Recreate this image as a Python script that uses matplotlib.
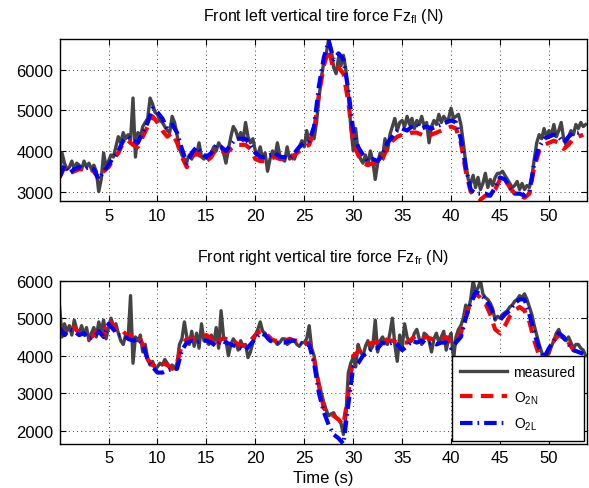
import numpy as np
import matplotlib
matplotlib.use('Agg')
import matplotlib.pyplot as plt

plt.rcParams['font.family'] = ['Liberation Sans', 'DejaVu Sans']
plt.rcParams['mathtext.fontset'] = 'custom'
plt.rcParams['mathtext.rm'] = 'Liberation Sans'

# measured signals sampled every 0.25 s, estimates every 0.5 s
t_meas = np.arange(0, 54, 0.25)
t_est = np.arange(0, 54, 0.5)

fl_measured = [
    3400, 3950, 3700, 3550, 3600, 3750, 3550, 3700, 3650, 3550, 3750, 3600,
    3700, 3550, 3650, 3500, 3000, 3300, 3950, 3600, 3750, 3900, 3850, 4100,
    4350, 4200, 4450, 4300, 4400, 4250, 5300, 3850, 4450, 4350, 4600, 4700,
    4800, 5300, 5150, 4950, 4900, 4750, 4700, 4600, 4500, 4450, 4850, 4700,
    4400, 4050, 3900, 3800, 3750, 3900, 3800, 4000, 3900, 4200, 3850, 3800,
    3900, 3800, 3950, 4100, 4000, 4200, 4100, 3950, 3700, 4050, 4350, 4600,
    4500, 4300, 4450, 4250, 4700, 4350, 4200, 4300, 4000, 3900, 4100, 3800,
    3950, 3500, 3800, 4000, 3850, 4200, 3900, 3800, 3750, 4100, 3800, 3900,
    3800, 4000, 4100, 4250, 4100, 4500, 4200, 4350, 4300, 4700, 5300, 5800,
    6200, 6400, 6750, 6500, 6050, 5900, 6300, 6100, 6350, 6000, 5400, 4600,
    4000, 4550, 3950, 3800, 3700, 3900, 3650, 4000, 3750, 3300, 3700, 3950,
    3850, 4300, 4000, 4400, 4600, 4800, 4500, 4700, 4750, 4600, 4850, 4650,
    4800, 4550, 4750, 4650, 4850, 4600, 4700, 4200, 4600, 4750, 4650, 4900,
    4700, 4850, 4750, 4800, 5050, 4800, 4850, 4900, 4650, 4200, 3700, 3300,
    3200, 3400, 3100, 3350, 3050, 3200, 3450, 3100, 3300, 3150, 3350, 3450,
    3450, 3500, 3400, 3300, 3200, 3100, 3150, 3250, 3050, 3200, 3050, 3150,
    3100, 3350, 3800, 4200, 4400, 4300, 4550, 4350, 4500, 4400, 4650, 4350,
    4500, 4700, 4300, 4150, 4350, 4500, 4400, 4650, 4550, 4700, 4600, 4650,
]
fl_o2n = [
    3350, 3600, 3450, 3500, 3550, 3550, 3550, 3500, 3300, 3500,
    3600, 3800, 3950, 4200, 4250, 4150, 4100, 4350, 4600, 4850,
    4700, 4500, 4350, 4450, 4200, 3850, 3600, 3850, 3950, 3850,
    3750, 3850, 4050, 4000, 3950, 4050, 4150, 4150, 4150, 4050,
    3800, 3750, 3750, 3800, 3850, 3800, 3800, 3750, 3900, 4000,
    4100, 4150, 4500, 5400, 6100, 6500, 6000, 6050, 5900, 5200,
    4200, 3900, 3700, 3650, 3700, 3650, 3800, 4100, 4250, 4350,
    4400, 4400, 4450, 4450, 4400, 4350, 4400, 4450, 4500, 4550,
    4600, 4550, 4200, 3500, 3000, 2900, 2800, 2900, 2900, 3050,
    3300, 3300, 3100, 2950, 2900, 2850, 2950, 3600, 4000, 4150,
    4200, 4250, 4200, 4050, 4150, 4300, 4350, 4400,
]
fl_o2l = [
    3350, 3650, 3450, 3550, 3600, 3550, 3600, 3550, 3300, 3500,
    3650, 3850, 4000, 4250, 4350, 4250, 4200, 4450, 4700, 5050,
    4950, 4800, 4550, 4650, 4450, 4050, 3700, 3950, 4100, 3950,
    3850, 3950, 4150, 4100, 4000, 4150, 4300, 4300, 4300, 4150,
    3950, 3850, 3850, 3900, 3950, 3850, 3850, 3800, 3950, 4100,
    4200, 4250, 4600, 5600, 6300, 6700, 6250, 6400, 6250, 5500,
    4500, 4100, 3900, 3750, 3800, 3750, 3900, 4200, 4350, 4500,
    4550, 4500, 4600, 4650, 4550, 4600, 4550, 4600, 4650, 4700,
    4750, 4700, 4300, 3600, 3050, 2950, 2950, 2950, 2900, 3100,
    3350, 3300, 3100, 2950, 2950, 2900, 3000, 3700, 4100, 4300,
    4350, 4400, 4350, 4200, 4350, 4450, 4450, 4500,
]

fr_measured = [
    5300, 4500, 4850, 4650, 4800, 4550, 4950, 4700, 4600, 4800, 4550, 4750,
    4400, 4600, 4750, 4500, 4900, 4650, 4950, 4450, 4750, 5000, 4800, 4850,
    4600, 4400, 4300, 4550, 4450, 5600, 3800, 4500, 4400, 4550, 4100, 4300,
    3900, 3750, 3850, 3650, 3700, 3800, 3750, 3900, 3800, 3700, 3750, 3650,
    3800, 4300, 4450, 4900, 4500, 4300, 4650, 4250, 4600, 4200, 4850, 4400,
    4450, 4300, 4550, 4300, 4750, 4200, 5200, 4500, 4400, 4000, 4300, 4450,
    4350, 4150, 4400, 4250, 4300, 3950, 4100, 4350, 4550, 4700, 4900, 4650,
    4600, 4450, 4500, 4400, 4400, 4300, 4350, 4450, 4450, 4300, 4350, 4400,
    4400, 4300, 4250, 4350, 4350, 4450, 4800, 4200, 4000, 3600, 3250, 3000,
    2750, 2550, 2400, 2450, 2480, 2350, 2300, 2200, 1900, 2400, 3550, 3800,
    3950, 3700, 4300, 4100, 4000, 4250, 4400, 4150, 4250, 4950, 4100, 4400,
    4500, 4350, 4300, 4600, 5000, 4300, 3850, 4550, 4200, 4850, 4500, 4350,
    4400, 4600, 4700, 4450, 4300, 4600, 4550, 4400, 4100, 4450, 4600, 4350,
    4500, 4650, 4150, 4450, 4600, 3900, 4500, 4700, 4800, 5000, 5350, 5200,
    5500, 6000, 5700, 5800, 6000, 5650, 5550, 5500, 5400, 5250, 4950, 5050,
    5000, 5100, 5150, 5200, 5300, 5350, 5450, 5500, 5600, 5550, 5650, 5500,
    5300, 5100, 4800, 4550, 4300, 4100, 3900, 4000, 4050, 4250, 4400, 4600,
    4700, 4500, 4450, 4400, 4500, 4350, 4200, 4300, 4300, 4200, 4150, 4000,
]
fr_o2n = [
    4800, 4550, 4700, 4750, 4600, 4550, 4450, 4550, 4750, 4550,
    4950, 4800, 4600, 4650, 4500, 4550, 4550, 4300, 3900, 3750,
    3700, 3800, 3750, 3650, 3800, 4300, 4450, 4450, 4450, 4500,
    4550, 4450, 4250, 4450, 4450, 4350, 4350, 4250, 4300, 4400,
    4550, 4650, 4650, 4450, 4400, 4400, 4400, 4450, 4400, 4400,
    4300, 4350, 3900, 3200, 2600, 2450, 2400, 2300, 2150, 3000,
    4000, 4100, 4250, 4300, 4350, 4350, 4500, 4400, 4400, 4350,
    4350, 4350, 4450, 4550, 4450, 4500, 4450, 4400, 4450, 4500,
    4350, 4450, 4600, 5100, 5400, 5650, 5550, 5400, 5100, 4700,
    4600, 4800, 5050, 5200, 5300, 5200, 4900, 4400, 4000, 3900,
    4150, 4400, 4550, 4500, 4350, 4150, 4100, 4050,
]
fr_o2l = [
    4750, 4550, 4700, 4650, 4550, 4600, 4450, 4500, 4650, 4500,
    4850, 4700, 4550, 4550, 4450, 4400, 4450, 4300, 3900, 3700,
    3550, 3550, 3600, 3650, 3650, 4150, 4350, 4400, 4350, 4400,
    4400, 4350, 4250, 4400, 4350, 4300, 4250, 4200, 4150, 4300,
    4450, 4600, 4550, 4400, 4350, 4350, 4350, 4400, 4400, 4350,
    4300, 4300, 3800, 3000, 2500, 2150, 1900, 1800, 1650, 2700,
    3700, 3800, 4000, 4100, 4200, 4200, 4350, 4300, 4350, 4300,
    4150, 4250, 4400, 4350, 4400, 4300, 4350, 4300, 4350, 4350,
    4200, 4350, 4500, 5000, 5400, 5700, 5650, 5500, 5300, 5000,
    4950, 5100, 5200, 5400, 5500, 5500, 5100, 4600, 4200, 3950,
    4200, 4400, 4600, 4500, 4300, 4150, 4100, 4050,
]

fig = plt.figure(figsize=(5.89, 4.89), dpi=100)
ax1 = fig.add_axes([0.102, 0.587, 0.894, 0.331])
ax2 = fig.add_axes([0.102, 0.091, 0.894, 0.333])


def draw_panel(ax, meas, o2n, o2l, title, ylim, yticks):
    ax.plot(t_meas, meas, color='#444444', lw=2.4, label='measured')
    ax.plot(t_est, o2n, color='red', lw=3, ls=(0, (3, 2)), label='O$_{\\mathrm{2N}}$')
    ax.plot(t_est, o2l, color='blue', lw=3, ls=(0, (3, 1.2, 0.4, 1.2)),
            label='O$_{\\mathrm{2L}}$')
    ax.set_xlim(0.05, 53.85)
    ax.set_ylim(*ylim)
    ax.set_xticks([5, 10, 15, 20, 25, 30, 35, 40, 45, 50])
    ax.set_yticks(yticks)
    ax.grid(True, ls=(0, (1, 4)), color='black', lw=0.6)
    ax.tick_params(direction='in', top=True, right=True, labelsize=12,
                   length=4, width=0.8, pad=5)
    for sp in ax.spines.values():
        sp.set_linewidth(1.0)
    ax.set_title(title, fontsize=11.5, pad=14)


draw_panel(ax1, fl_measured, fl_o2n, fl_o2l,
           'Front left vertical tire force Fz$_{\\mathrm{fl}}$ (N)',
           (2770, 6750), [3000, 4000, 5000, 6000])
draw_panel(ax2, fr_measured, fr_o2n, fr_o2l,
           'Front right vertical tire force Fz$_{\\mathrm{fr}}$ (N)',
           (1660, 6000), [2000, 3000, 4000, 5000, 6000])

ax2.set_xlabel('Time (s)', fontsize=12, labelpad=3)
leg = ax2.legend(loc='lower right', fontsize=10, fancybox=False,
                 edgecolor='black', framealpha=1, handlelength=3.4,
                 handletextpad=0.45, borderaxespad=0.2, labelspacing=0.75,
                 borderpad=0.6)
leg.get_frame().set_linewidth(1.0)

fig.savefig('out.png', dpi=100)
